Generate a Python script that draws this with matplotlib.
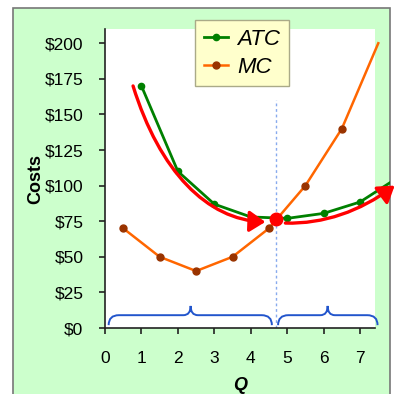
import matplotlib
matplotlib.use("Agg")
import matplotlib.pyplot as plt
from matplotlib.path import Path
from matplotlib.patches import PathPatch, Rectangle, FancyArrowPatch

plt.rcParams['font.family'] = ['Liberation Sans', 'DejaVu Sans']

# ---- data ----
q_atc = [1, 2, 3, 4, 5, 6, 7, 8]
atc = [170, 110, 87, 78, 77, 80.5, 88.5, 105]
q_mc = [0.5, 1.5, 2.5, 3.5, 4.5, 5.5, 6.5, 7.5]
mc = [70, 50, 40, 50, 70, 100, 140, 200]
y_ticks = [0, 25, 50, 75, 100, 125, 150, 175, 200]
y_labels = ['$0', '$25', '$50', '$75', '$100', '$125', '$150', '$175', '$200']
x_ticks = [0, 1, 2, 3, 4, 5, 6, 7]
min_q, min_atc = 4.7, 76.5
# red "trend" curves: start, control1, control2, end
red_left = [(0.77, 170), (1.5, 110), (2.8, 76), (4.4, 74.5)]
red_right = [(4.95, 73.7), (6.0, 73), (7.0, 82), (7.95, 100)]
# braces: (start, tip, end)
braces = [(0.1, 2.35, 4.58), (4.75, 6.11, 7.48)]

W = 394
fig = plt.figure(figsize=(3.94, 3.94), dpi=100)
fig.patch.set_facecolor('white')
frame = Rectangle((13 / W, -0.05), (390 - 13) / W, (W - 8) / W + 0.05, transform=fig.transFigure,
                  facecolor='#ccffcc', edgecolor='#777777', linewidth=1.2, zorder=-10)
fig.patches.append(frame)

ax = fig.add_axes([105 / W, (W - 328) / W, (375 - 105) / W, (328 - 29) / W])
ax.set_facecolor('white')
ax.set_xlim(0, 7.41)
ax.set_ylim(0, 210)
for s in ['top', 'right']:
    ax.spines[s].set_visible(False)
for s in ['left', 'bottom']:
    ax.spines[s].set_color('#222222')
    ax.spines[s].set_linewidth(1.2)

ax.set_yticks(y_ticks)
ax.set_yticklabels(y_labels)
ax.set_xticks(x_ticks)
ax.tick_params(axis='both', length=4.5, width=1.2, color='#222222', labelsize=12.5)
ax.tick_params(axis='y', pad=11)
ax.tick_params(axis='x', pad=12)
ax.set_ylabel('Costs', fontsize=13, fontweight='bold', labelpad=0)
ax.set_xlabel('Q', fontsize=13, fontweight='bold', fontstyle='italic', labelpad=8)

clip_rect = Rectangle((0, 0), 390 / W, 1, transform=fig.transFigure, visible=False)

# vertical dashed line at min ATC
ax.plot([min_q, min_q], [0, 160], color='#88aaee', lw=1, ls=(0, (2, 2)), zorder=2)

l_atc, = ax.plot(q_atc, atc, color='#008000', lw=2, marker='o', ms=4.5,
                 markevery=list(range(7)), zorder=4, label='ATC')
l_atc.set_clip_path(clip_rect)
l_atc.set_clip_on(True)
l_mc, = ax.plot(q_mc, mc, color='#ff6600', lw=1.8, marker='o', ms=5,
                mfc='#993300', mec='#993300', markevery=list(range(7)),
                clip_on=False, zorder=3, label='MC')

# red curved arrows
for pts in (red_left, red_right):
    path = Path(pts, [Path.MOVETO, Path.CURVE4, Path.CURVE4, Path.CURVE4])
    arr = FancyArrowPatch(path=path, arrowstyle='-|>,head_length=6,head_width=4',
                          color='#ff0000', lw=2.4, mutation_scale=1.6,
                          clip_on=False, zorder=5, shrinkA=0, shrinkB=0)
    ax.add_patch(arr)

ax.plot([min_q], [min_atc], 'o', color='#ff0000', ms=9, zorder=6, clip_on=False)

# braces
yb, yf, yt = 2, 9, 15.5
for x0, xm, x1 in braces:
    r = 0.28
    r2 = 0.2
    verts = [(x0, yb), (x0, yf), (x0 + r, yf),
             (xm - r2, yf), (xm, yf), (xm, yt),
             (xm, yf), (xm + r2, yf),
             (x1 - r, yf), (x1, yf), (x1, yb)]
    codes = [Path.MOVETO, Path.CURVE3, Path.CURVE3,
             Path.LINETO, Path.CURVE3, Path.CURVE3,
             Path.CURVE3, Path.CURVE3,
             Path.LINETO, Path.CURVE3, Path.CURVE3]
    ax.add_patch(PathPatch(Path(verts, codes), facecolor='none', edgecolor='#2255cc',
                           lw=1.4, clip_on=False, zorder=4))

leg = fig.legend(handles=[l_atc, l_mc], loc='upper left',
                 bbox_to_anchor=(195 / W, (W - 20) / W), borderaxespad=0,
                 fancybox=False, framealpha=1, facecolor='#ffffcc', edgecolor='#aaaa88',
                 prop={'size': 16, 'style': 'italic'}, handlelength=1.1,
                 handletextpad=0.4, labelspacing=0.3, borderpad=0.4)
leg.get_frame().set_linewidth(1)
leg.set_zorder(10)

fig.savefig('out.png', dpi=100)
